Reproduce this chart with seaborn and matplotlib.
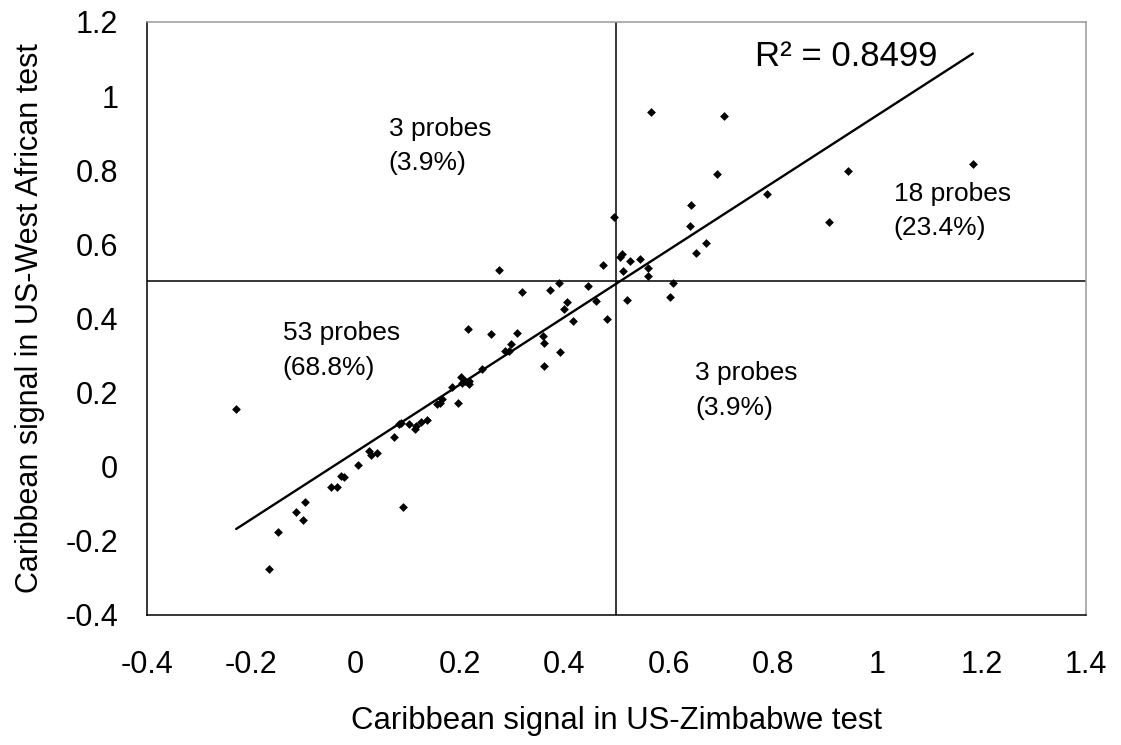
import numpy as np
import pandas as pd
import seaborn as sns
import matplotlib.pyplot as plt

# Caribbean signal: x = US-Zimbabwe test, y = US-West African test
zimbabwe = [
    0.496, 0.275, 0.474,
    0.566, 0.706, 1.183, 0.944, 0.693, 0.788, 0.907, 0.642, 0.640, 0.672,
    0.652, 0.507, 0.510, 0.526, 0.545, 0.560, 0.560, 0.513,
    0.520, 0.602, 0.608,
    -0.229, -0.166, -0.149, -0.115, -0.098, -0.100, -0.047, -0.036, -0.029, -0.023,
    0.005, 0.026, 0.030, 0.040, 0.073, 0.083, 0.091, 0.103, 0.113, 0.115,
    0.126, 0.137, 0.155, 0.161, 0.166, 0.185, 0.197, 0.201, 0.204, 0.217,
    0.217, 0.216, 0.242, 0.260, 0.287, 0.294, 0.298, 0.309, 0.359, 0.361,
    0.362, 0.392, 0.400, 0.406, 0.416, 0.461, 0.482, 0.319, 0.372, 0.389,
    0.445, 0.087, 0.210,
]
west_african = [
    0.674, 0.532, 0.543,
    0.958, 0.947, 0.818, 0.797, 0.791, 0.735, 0.660, 0.707, 0.650, 0.604,
    0.577, 0.567, 0.575, 0.554, 0.561, 0.536, 0.514, 0.529,
    0.450, 0.457, 0.497,
    0.155, -0.276, -0.177, -0.122, -0.095, -0.143, -0.054, -0.054, -0.024, -0.027,
    0.004, 0.042, 0.031, 0.038, 0.080, 0.114, -0.109, 0.114, 0.101, 0.110,
    0.121, 0.125, 0.169, 0.171, 0.184, 0.214, 0.171, 0.241, 0.227, 0.232,
    0.223, 0.372, 0.265, 0.358, 0.311, 0.313, 0.331, 0.362, 0.354, 0.334,
    0.272, 0.310, 0.426, 0.444, 0.392, 0.448, 0.399, 0.471, 0.477, 0.495,
    0.489, 0.117, 0.230,
]
threshold = 0.5
r2_text = "R\u00b2 = 0.8499"
x_ticks = [-0.4, -0.2, 0, 0.2, 0.4, 0.6, 0.8, 1, 1.2, 1.4]
x_tick_labels = ["-0.4", "-0.2", "0", "0.2", "0.4", "0.6", "0.8", "1", "1.2", "1.4"]
y_ticks = [-0.4, -0.2, 0, 0.2, 0.4, 0.6, 0.8, 1, 1.2]
y_tick_labels = ["-0.4", "-0.2", "0", "0.2", "0.4", "0.6", "0.8", "1", "1.2"]

df = pd.DataFrame({"zim": zimbabwe, "wa": west_african})

sns.set_style("white")
plt.rcParams['font.family'] = ['Liberation Sans', 'DejaVu Sans']
plt.rcParams['text.color'] = "black"
plt.rcParams['axes.labelcolor'] = "black"
plt.rcParams['xtick.color'] = "black"
plt.rcParams['ytick.color'] = "black"

fig, ax = plt.subplots(figsize=(11.21, 7.45), dpi=100)
fig.subplots_adjust(left=0.1311, right=0.9688, top=0.9705, bottom=0.1745)

# quadrant lines
ax.axvline(threshold, color="black", lw=1.1, zorder=1)
ax.axhline(threshold, color="black", lw=1.1, zorder=1)

sns.regplot(data=df, x="zim", y="wa", scatter=False, ci=None, truncate=True,
            line_kws={"color": "black", "lw": 1.7}, ax=ax)
sns.scatterplot(data=df, x="zim", y="wa", marker="D", s=20, color="black",
                edgecolor="black", linewidth=0, ax=ax, zorder=3)

ax.set_xlim(-0.4, 1.4)
ax.set_ylim(-0.4, 1.2)
ax.set_xticks(x_ticks)
ax.set_xticklabels(x_tick_labels)
ax.set_yticks(y_ticks)
ax.set_yticklabels(y_tick_labels)
ax.tick_params(axis="x", direction="out", length=8, width=1.1, pad=17,
               labelsize=22)
ax.tick_params(axis="y", direction="out", length=8.6, width=1.1, pad=12,
               labelsize=22)
for side in ["left", "bottom"]:
    ax.spines[side].set_color("black")
    ax.spines[side].set_linewidth(1.1)
for side in ["top", "right"]:
    ax.spines[side].set_color("#999999")
    ax.spines[side].set_linewidth(1.1)

ax.set_xlabel("Caribbean signal in US-Zimbabwe test", fontsize=22.4, labelpad=19)
ax.set_ylabel("Caribbean signal in US-West African test", fontsize=22, labelpad=15)

# quadrant counts
note = dict(fontsize=19, va="top", ha="left", linespacing=1.55)
ax.text(0.063, 0.944, "3 probes\n(3.9%)", **note)
ax.text(1.031, 0.769, "18 probes\n(23.4%)", **note)
ax.text(-0.140, 0.393, "53 probes\n(68.8%)", **note)
ax.text(0.651, 0.285, "3 probes\n(3.9%)", **note)
ax.text(0.766, 1.080, r2_text, fontsize=25, va="baseline", ha="left")

plt.savefig("out.png", dpi=100)
